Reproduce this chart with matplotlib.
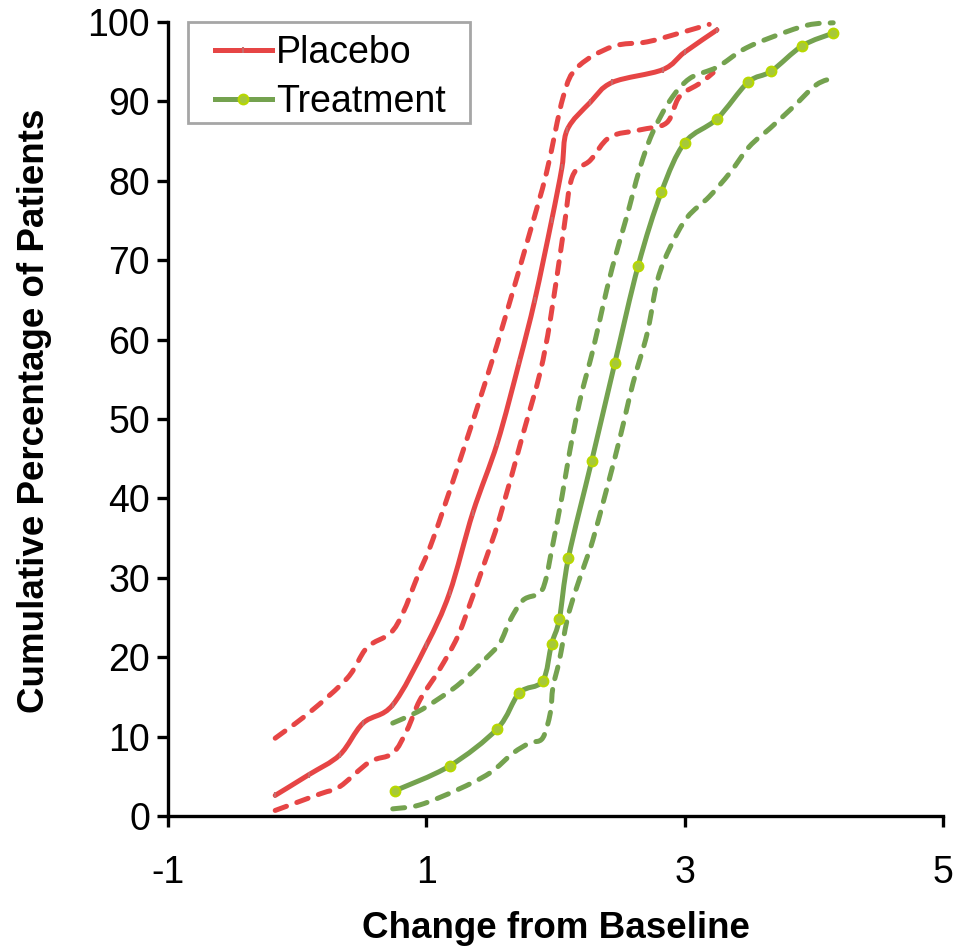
import matplotlib
matplotlib.use("Agg")
import matplotlib.pyplot as plt
import numpy as np
from matplotlib.path import Path
from matplotlib.patches import PathPatch, Rectangle
from matplotlib.lines import Line2D

plt.rcParams['font.family'] = ['Liberation Sans', 'DejaVu Sans']
plt.rcParams['axes.unicode_minus'] = False

# ---------------- data ----------------
placebo_x = [-0.17, 0.09, 0.33, 0.51, 0.74, 1.00, 1.18, 1.36, 1.55, 1.72, 1.84, 1.97, 2.05, 2.09,
             2.27, 2.44, 2.83, 3.00, 3.25]
placebo_y = [2.6, 5.2, 7.7, 11.7, 14.0, 21.5, 28.1, 38.2, 47.0, 57.2, 65.0, 75.0, 81.7, 86.4,
             89.9, 92.4, 94.0, 96.2, 99.0]

placebo_upper_x = [-0.17, 0.10, 0.39, 0.54, 0.72, 0.82, 0.93, 1.05, 1.26, 1.47, 1.62, 1.80, 1.93,
                   2.06, 2.17, 2.44, 2.71, 2.96, 3.19]
placebo_upper_y = [9.8, 13.1, 17.4, 21.2, 23.0, 25.6, 30.1, 34.8, 44.8, 55.3, 63.3, 73.4, 81.0,
                   90.6, 94.3, 96.9, 97.5, 98.6, 99.7]

placebo_lower_x = [-0.17, 0.18, 0.33, 0.56, 0.74, 0.85, 0.95, 1.10, 1.24, 1.34, 1.44, 1.57, 1.75,
                   1.88, 1.96, 2.06, 2.13, 2.27, 2.42, 2.65, 2.86, 2.96, 3.12, 3.22]
placebo_lower_y = [0.7, 2.8, 3.7, 6.8, 7.9, 10.8, 14.6, 18.4, 22.5, 26.8, 31.4, 37.7, 48.2,
                   55.8, 62.5, 73.4, 80.5, 82.6, 85.5, 86.4, 87.3, 90.6, 92.3, 93.6]

treat_x = [0.76, 1.18, 1.55, 1.72, 1.90, 1.97, 2.03, 2.10, 2.28, 2.46, 2.64, 2.82, 3.00, 3.25,
           3.49, 3.67, 3.91, 4.15]
treat_y = [3.2, 6.3, 11.0, 15.5, 17.0, 21.7, 24.8, 32.5, 44.7, 57.1, 69.3, 78.6, 84.8, 87.8,
           92.4, 93.8, 97.0, 98.6]

treat_upper_x = [0.74, 0.93, 1.08, 1.26, 1.47, 1.57, 1.65, 1.75, 1.88, 1.93, 1.96, 2.05, 2.11,
                 2.19, 2.29, 2.36, 2.44, 2.55, 2.65, 2.75, 2.89, 3.04, 3.25, 3.45, 3.66, 3.95, 4.15]
treat_upper_y = [11.7, 13.1, 14.6, 16.7, 20.0, 21.8, 24.7, 27.2, 28.1, 30.1, 32.6, 40.2, 45.9,
                 52.4, 58.7, 63.7, 69.1, 75.4, 81.4, 86.0, 90.2, 92.9, 94.3, 96.5, 98.0, 99.6, 99.9]

treat_lower_x = [0.74, 0.95, 1.24, 1.49, 1.67, 1.80, 1.90, 1.96, 1.98, 2.03, 2.09, 2.15, 2.23,
                 2.29, 2.40, 2.50, 2.60, 2.71, 2.79, 2.89, 3.02, 3.19, 3.35, 3.50, 3.66, 3.84,
                 4.02, 4.16]
treat_lower_y = [0.9, 1.4, 3.3, 5.4, 7.9, 9.2, 9.8, 13.0, 16.2, 19.6, 24.7, 28.1, 31.9,
                 34.8, 41.4, 47.7, 54.5, 60.8, 67.5, 71.7, 75.4, 78.0, 81.0, 84.3, 86.6, 89.3,
                 92.1, 93.0]

series_labels = ["Placebo", "Treatment"]
x_ticks = [-1, 1, 3, 5]
y_ticks = [0, 10, 20, 30, 40, 50, 60, 70, 80, 90, 100]

RED = '#E64545'
GREEN = '#74A24F'
MARK_G = '#B8D800'
MARK_G_FACE = '#A6C83A'
MARK_R = '#C86A6A'


def smooth_path(x, y):
    pts = np.column_stack([x, y]).astype(float)
    n = len(pts)
    verts = [pts[0]]
    codes = [Path.MOVETO]
    for i in range(n - 1):
        p0 = pts[i - 1] if i > 0 else pts[i]
        p1 = pts[i]
        p2 = pts[i + 1]
        p3 = pts[i + 2] if i + 2 < n else pts[i + 1]
        c1 = p1 + (p2 - p0) / 6.0
        c2 = p2 - (p3 - p1) / 6.0
        verts += [c1, c2, p2]
        codes += [Path.CURVE4] * 3
    return Path(verts, codes)


fig = plt.figure(figsize=(9.69, 9.46), dpi=100)
ax = fig.add_axes([168 / 969, 1 - 816 / 946, 775 / 969, 794 / 946])

LW = 3.6
dash = (0, (2.4, 2.2))

for xs, ys, col, ls in [
    (placebo_upper_x, placebo_upper_y, RED, dash),
    (placebo_lower_x, placebo_lower_y, RED, dash),
    (treat_upper_x, treat_upper_y, GREEN, dash),
    (treat_lower_x, treat_lower_y, GREEN, dash),
    (placebo_x, placebo_y, RED, '-'),
    (treat_x, treat_y, GREEN, '-'),
]:
    p = PathPatch(smooth_path(xs, ys), fill=False, edgecolor=col, lw=LW, linestyle=ls,
                  capstyle='round', joinstyle='round', clip_on=False)
    ax.add_patch(p)

ax.plot(placebo_x, placebo_y, linestyle='none', marker='|', ms=5, mew=1.5, color=MARK_R,
        clip_on=False)
ax.plot(treat_x, treat_y, linestyle='none', marker='o', ms=7, mfc=MARK_G_FACE, mec=MARK_G,
        mew=1.5, clip_on=False)

ax.set_xlim(-1, 5)
ax.set_ylim(0, 100)
ax.set_xticks(x_ticks)
ax.set_yticks(y_ticks)
ax.set_xticklabels([str(t) for t in x_ticks])
ax.set_yticklabels([str(t) for t in y_ticks])

for s in ['top', 'right']:
    ax.spines[s].set_visible(False)
for s in ['left', 'bottom']:
    ax.spines[s].set_linewidth(2.4)
    ax.spines[s].set_color('black')

ax.tick_params(axis='both', direction='out', length=8, width=2.4, labelsize=27, colors='black')
ax.tick_params(axis='x', pad=20)
ax.tick_params(axis='y', pad=5)

ax.set_xlabel("Change from Baseline", fontsize=26.5, fontweight='bold')
ax.xaxis.set_label_coords(0.5, -0.12)
ax.set_ylabel("Cumulative Percentage of Patients", fontsize=26.5, fontweight='bold')
ax.yaxis.label.set_va('center')
ax.yaxis.set_label_coords(-0.172, 0.51)

# legend frame
frame = Rectangle((0.0258, 0.8728), 0.3639, 0.1272, transform=ax.transAxes, fill=True,
                  facecolor='white', edgecolor='#A6A6A6', lw=2.0, zorder=4, clip_on=False)
ax.add_patch(frame)

handles = [
    Line2D([], [], color=RED, lw=LW, marker='|', ms=5, mew=1.5, mec=MARK_R),
    Line2D([], [], color=GREEN, lw=LW, marker='o', ms=7, mfc=MARK_G_FACE, mec=MARK_G, mew=1.5),
]
leg = ax.legend(handles, series_labels, loc='upper left', bbox_to_anchor=(0.0606, 0.983),
                borderaxespad=0, fontsize=27, frameon=False,
                handlelength=1.52, handletextpad=0.1, labelspacing=0.33, borderpad=0.0)
leg.set_zorder(5)

fig.savefig('out.png', dpi=100)
